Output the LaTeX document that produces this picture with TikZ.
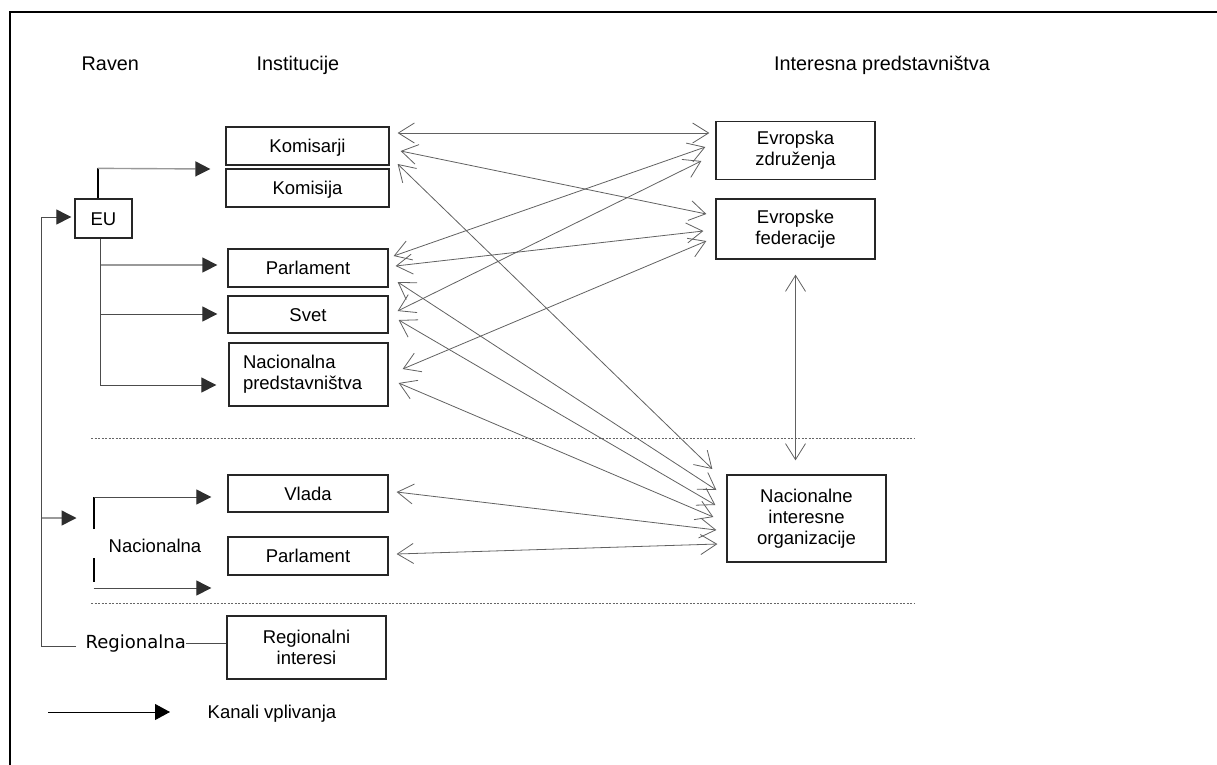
\documentclass[tikz,border=0pt]{standalone}
\usepackage{fontspec}
\setmainfont{Liberation Sans}
\newfontfamily\dejavu{DejaVu Sans}
\usetikzlibrary{arrows.meta,calc}
\begin{document}
\begin{tikzpicture}[x=1pt,y=-1pt,
  lbl/.style={font=\fontsize{18.5}{21.2}\selectfont, inner sep=0pt},
  hdr/.style={font=\fontsize{19.8}{22}\selectfont, inner sep=0pt, anchor=base west},
  box/.style={draw=black!85, line width=1.3pt, inner sep=0pt, align=center,
    font=\fontsize{18.5}{21.2}\selectfont},
  oneline/.style={text height=13.3pt, text depth=0pt},
  link/.style={draw=black!62, line width=0.8pt,
    {Straight Barb[length=16pt,width=20pt]}-{Straight Barb[length=16pt,width=20pt]}},
  feed/.style={draw=black!70, line width=1pt,
    -{Triangle[length=15pt,width=15pt,color=black!82]}},
  pale/.style={draw=black!40, line width=1.4pt},
  tick/.style={draw=black, line width=2pt},
  plain/.style={draw=black!70, line width=1pt},
  level/.style={draw=black!60, line width=1pt, dash pattern=on 2pt off 1.5pt},
]
\useasboundingbox (0,0) rectangle (1217,764);

% outer frame (top and left edges)
\draw[line width=2.7pt] (10,780) -- (10,12) -- (1230,12);

% column headings
\node[hdr] (hraven) at (81.5,70.7) {Raven};
\node[hdr] (hinst) at (256.5,70.7) {Institucije};
\node[hdr] (hint) at (774,70.7) {Interesna predstavništva};

% institutions
\node[box,oneline,minimum width=163pt,minimum height=38pt] (komisarji) at (307.5,146) {Komisarji};
\node[box,oneline,minimum width=163pt,minimum height=38pt] (komisija) at (307.5,188) {Komisija};
\node[box,oneline,minimum width=57pt,minimum height=39pt] (eu) at (103.5,218.5) {EU};
\node[box,oneline,minimum width=160pt,minimum height=38pt] (parlEU) at (308,268) {Parlament};
\node[box,oneline,minimum width=160pt,minimum height=37pt] (svet) at (308,314.5) {Svet};
\node[box,minimum width=159pt,minimum height=63pt,text width=131pt,align=left] (nacpred) at (308.5,374.5) {Nacionalna\\predstavništva};
\node[box,oneline,minimum width=160pt,minimum height=37pt] (vlada) at (308,493.5) {Vlada};
\node[box,oneline,minimum width=160pt,minimum height=38pt] (parlNat) at (308,556) {Parlament};
\node[box,minimum width=159pt,minimum height=63pt] (regint) at (306.5,647.5) {Regionalni\\interesi};

% interest representations
\node[box,minimum width=159pt,minimum height=58pt] (evzdr) at (795.5,150.5) {Evropska\\združenja};
\node[box,minimum width=159pt,minimum height=60pt] (evfed) at (795.5,229) {Evropske\\federacije};
\node[box,minimum width=159pt,minimum height=87pt] (nio) at (806.5,518.5) {Nacionalne\\interesne\\organizacije};

% level labels and legend text
\node[lbl] (nactxt) at (155,546) {Nacionalna};
\node[inner sep=0pt, anchor=base west, font=\dejavu\fontsize{18}{21}\selectfont] (regtxt) at (85.5,648.5) {Regionalna};
\node[lbl, anchor=base west] (lgtxt) at (207.5,718) {Kanali vplivanja};

% level separators
\draw[level] (91,438) -- (915,438);
\draw[level] (91,603) -- (915,603);

% two-way links between institutions and interest groups
\draw[link] ($(komisarji.east)+(8,-13)$) -- ($(evzdr.west)+(-6,-17.5)$);
\draw[link] ($(komisarji.east)+(11,5)$) -- ($(evfed.west)+(-9,-15)$);
\draw[link] ($(komisarji.east)+(8,18)$) -- ($(nio.west)+(-14,-49.5)$);
\draw[link] ($(parlEU.east)+(5,-12)$) -- ($(evzdr.west)+(-10,-3.5)$);
\draw[link] ($(parlEU.east)+(7,-2)$) -- ($(evfed.west)+(-12,2)$);
\draw[link] ($(parlEU.east)+(9,14)$) -- ($(nio.west)+(-10,-28.5)$);
\draw[link] ($(svet.east)+(9,-3.5)$) -- ($(evzdr.west)+(-14,10.5)$);
\draw[link] ($(svet.east)+(10,5.5)$) -- ($(nio.west)+(-11,-13.5)$);
\draw[link] ($(nacpred.east)+(14,-5.5)$) -- ($(evfed.west)+(-9,12)$);
\draw[link] ($(nacpred.east)+(10,8.5)$) -- ($(nio.west)+(-13,-1.5)$);
\draw[link] ($(vlada.east)+(8,-1.5)$) -- ($(nio.west)+(-10,11.5)$);
\draw[link] ($(parlNat.east)+(8,-2)$) -- ($(nio.west)+(-9,25.5)$);
\draw[link] ($(evfed.south)+(0,15)$) -- ($(evfed.south |- nio.north)+(0,-14)$);

% channels from the EU level
\coordinate (eustem) at ($(eu.south)+(-2.8,0)$);
\coordinate (eutop) at ($(eu.north)+(-5.8,0)$);
\draw[tick] (eutop) -- ++(0,-30) coordinate (eucorner);
\draw[feed,pale] (eucorner) -- ($(komisarji.west)+(-15,23)$);
\draw[feed] (eustem) |- ($(nacpred.west)+(-12,10.5)$);
\draw[feed,pale] ($(eustem |- parlEU.west)+(0,-3)$) -- ($(parlEU.west)+(-10,-3)$);
\draw[feed] ($(eustem |- svet.west)+(0,-0.5)$) -- ($(svet.west)+(-10,-0.5)$);

% level spine on the left
\coordinate (spinex) at (41.7,400);
\draw[plain] ($(regtxt.base west)+(-9.5,-2.5)$) -| (spinex);
\draw[feed] (spinex) |- ($(eu.west)+(-3,-1.5)$);
\draw[feed,pale] ($(spinex |- nactxt.west)+(0,-28)$) -- ($(nactxt.west)+(-32,-28)$);

% national level bracket
\draw[tick] ($(nactxt.west)+(-15,-17)$) -- ($(nactxt.west)+(-15,-49)$) coordinate (brtop);
\draw[feed] (brtop) -- ($(vlada.west)+(-16,3.5)$);
\draw[tick] ($(nactxt.west)+(-15,12)$) -- ($(nactxt.west)+(-15,36)$);
\draw[feed] ($(nactxt.west)+(-15,42)$) -- ($(parlNat.west)+(-16,32)$);

% regional level
\draw[plain] ($(regtxt.base east)+(0,-5.5)$) -- ($(regint.west)+(0,-4.5)$);

% legend arrow
\coordinate (lgstart) at (48,712);
\draw[feed, draw=black, line width=0.9pt, -{Triangle[length=15pt,width=16pt,color=black]}]
  (lgstart) -- ($(lgtxt.base west)+(-37.5,-6)$);
\end{tikzpicture}
\end{document}
